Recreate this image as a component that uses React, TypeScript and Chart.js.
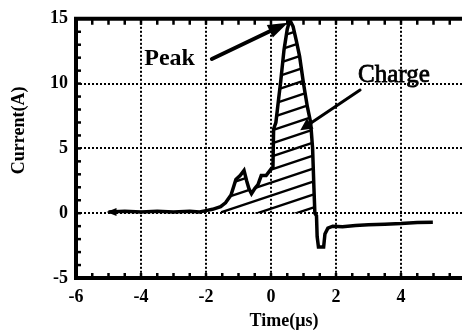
import React, { useEffect, useRef } from "react";
import { Chart, registerables } from "chart.js";

Chart.register(...registerables);

const timeUs = [
  -5.0, -4.5, -4.0, -3.5, -3.0, -2.5, -2.2, -2.0, -1.8, -1.55, -1.4, -1.23, -1.08, -0.95, -0.83,
  -0.75, -0.68, -0.6, -0.5, -0.4, -0.3, -0.15, 0.0, 0.06, 0.08, 0.15, 0.22, 0.3, 0.4, 0.5, 0.58,
  0.68, 0.78, 0.88, 1.0, 1.12, 1.22, 1.28, 1.32, 1.35, 1.4, 1.42, 1.46, 1.62, 1.66, 1.75, 1.9,
  2.2, 2.6, 3.0, 3.5, 4.0, 4.5, 4.98,
];
const currentA = [
  0.1, 0.15, 0.1, 0.15, 0.1, 0.15, 0.1, 0.2, 0.3, 0.5, 0.8, 1.4, 2.6, 2.9, 3.3,
  2.5, 1.9, 1.5, 1.9, 2.2, 2.9, 2.9, 3.4, 3.5, 6.5, 7.0, 8.5, 10.2, 12.6, 14.2, 14.9,
  14.4, 13.3, 12.1, 10.0, 8.2, 7.0, 5.0, 2.0, 0.0, -0.2, -1.8, -2.6, -2.6, -1.6, -1.15, -1.0,
  -1.05, -0.95, -0.9, -0.85, -0.8, -0.72, -0.7,
];
// Hatched "charge" region limits (µs)
const hatchStart = -1.55;
const hatchEnd = 1.35;

const xMin = -6;
const xMax = 6;
const xStep = 2;
const yMin = -5;
const yMax = 15;
const yStep = 5;

const xTitle = "Time(μs)";
const yTitle = "Current(A)";

// Annotations (data coordinates)
const peakLabel = { text: "Peak", x: -3.9, y: 11.4 };
const peakArrow = { from: [-1.82, 11.9], to: [0.52, 14.7] };
const chargeLabel = { text: "Charge", x: 2.68, y: 10.1 };
const chargeArrow = { from: [2.74, 9.5], to: [0.9, 6.4] };

const SERIF = "'Liberation Serif', 'DejaVu Serif', serif";

function makeHatch(ctx: CanvasRenderingContext2D) {
  const c = document.createElement("canvas");
  const w = 39;
  const h = 13;
  c.width = w;
  c.height = h;
  const g = c.getContext("2d")!;
  g.strokeStyle = "#000";
  g.lineWidth = 2.4;
  for (const dy of [-h, 0, h]) {
    g.beginPath();
    g.moveTo(-1, h + dy + h / w);
    g.lineTo(w + 1, dy - h / w);
    g.stroke();
  }
  return ctx.createPattern(c, "repeat");
}

function arrow(ctx: CanvasRenderingContext2D, x1: number, y1: number, x2: number, y2: number, len: number, half: number) {
  const ang = Math.atan2(y2 - y1, x2 - x1);
  const bx = x2 - len * Math.cos(ang);
  const by = y2 - len * Math.sin(ang);
  ctx.beginPath();
  ctx.moveTo(x1, y1);
  ctx.lineTo(bx, by);
  ctx.stroke();
  ctx.beginPath();
  ctx.moveTo(x2, y2);
  ctx.lineTo(bx + half * Math.sin(ang), by - half * Math.cos(ang));
  ctx.lineTo(bx - half * Math.sin(ang), by + half * Math.cos(ang));
  ctx.closePath();
  ctx.fill();
}

const decorPlugin = {
  id: "decor",
  afterDraw(chart: any) {
    const { ctx, chartArea: a, scales } = chart;
    const x = scales.x;
    const y = scales.y;
    ctx.save();
    ctx.fillStyle = "#000";
    ctx.strokeStyle = "#000";
    // frame lines: left, top, bottom
    ctx.lineWidth = 4;
    ctx.beginPath();
    ctx.moveTo(a.left, a.bottom + 2);
    ctx.lineTo(a.left, a.top - 2);
    ctx.moveTo(a.left - 2, a.top);
    ctx.lineTo(a.right + 4, a.top);
    ctx.moveTo(a.left - 2, a.bottom);
    ctx.lineTo(a.right + 4, a.bottom);
    ctx.stroke();
    // minor ticks on top & bottom
    ctx.lineWidth = 2.5;
    for (let v = xMin + 0.5; v < xMax; v += 0.5) {
      const px = x.getPixelForValue(v);
      ctx.beginPath();
      ctx.moveTo(px, a.top);
      ctx.lineTo(px, a.top + 6);
      ctx.moveTo(px, a.bottom);
      ctx.lineTo(px, a.bottom - 5);
      ctx.stroke();
    }
    // minor ticks on left
    for (let v = yMin + 1; v < yMax; v += 1) {
      const py = y.getPixelForValue(v);
      ctx.beginPath();
      ctx.moveTo(a.left, py);
      ctx.lineTo(a.left + 5, py);
      ctx.stroke();
    }
    // start arrowhead of trace
    {
      const px = x.getPixelForValue(timeUs[0]);
      const py = y.getPixelForValue(currentA[0]);
      ctx.beginPath();
      ctx.moveTo(px - 2, py);
      ctx.lineTo(px + 8, py - 4);
      ctx.lineTo(px + 8, py + 4);
      ctx.closePath();
      ctx.fill();
    }
    // annotation arrows
    ctx.lineWidth = 4;
    ctx.lineCap = "round";
    arrow(
      ctx,
      x.getPixelForValue(peakArrow.from[0]),
      y.getPixelForValue(peakArrow.from[1]),
      x.getPixelForValue(peakArrow.to[0]),
      y.getPixelForValue(peakArrow.to[1]),
      20,
      7
    );
    ctx.lineWidth = 3;
    arrow(
      ctx,
      x.getPixelForValue(chargeArrow.from[0]),
      y.getPixelForValue(chargeArrow.from[1]),
      x.getPixelForValue(chargeArrow.to[0]),
      y.getPixelForValue(chargeArrow.to[1]),
      12,
      6
    );
    // annotation labels
    ctx.textBaseline = "alphabetic";
    ctx.textAlign = "left";
    ctx.font = `bold 24px ${SERIF}`;
    ctx.fillText(peakLabel.text, x.getPixelForValue(peakLabel.x), y.getPixelForValue(peakLabel.y));
    ctx.font = `25px ${SERIF}`;
    ctx.lineWidth = 0.8;
    ctx.lineCap = "butt";
    const cx = x.getPixelForValue(chargeLabel.x);
    const cy = y.getPixelForValue(chargeLabel.y);
    ctx.fillText(chargeLabel.text, cx, cy);
    ctx.strokeText(chargeLabel.text, cx, cy);
    // axis titles
    ctx.font = `bold 18px ${SERIF}`;
    ctx.textAlign = "center";
    ctx.fillText(xTitle, (a.left + a.right) / 2 + 13, chart.height - 5);
    ctx.translate(24, (a.top + a.bottom) / 2 - 18);
    ctx.rotate(-Math.PI / 2);
    ctx.fillText(yTitle, 0, 0);
    ctx.restore();
  },
};

export default function App() {
  const ref = useRef<HTMLCanvasElement | null>(null);

  useEffect(() => {
    const canvas = ref.current!;
    const ctx = canvas.getContext("2d")!;
    const hatch = makeHatch(ctx);
    const mainData = timeUs.map((t, i) => ({ x: t, y: currentA[i] }));
    const hatchData = mainData.filter((p) => p.x >= hatchStart && p.x <= hatchEnd);

    const edgeX = (c: any) => (c.tick && (c.tick.value === xMin || c.tick.value === xMax) ? "rgba(0,0,0,0)" : "#000");
    const edgeY = (c: any) => (c.tick && (c.tick.value === yMin || c.tick.value === yMax) ? "rgba(0,0,0,0)" : "#000");

    const chart = new Chart(canvas, {
      type: "line",
      data: {
        datasets: [
          {
            label: "Current",
            data: mainData,
            borderColor: "#000",
            borderWidth: 3.5,
            pointRadius: 0,
            tension: 0,
            fill: false,
            order: 0,
          },
          {
            label: "Charge",
            data: hatchData,
            borderWidth: 0,
            borderColor: "rgba(0,0,0,0)",
            backgroundColor: hatch as any,
            pointRadius: 0,
            tension: 0,
            fill: "origin",
            order: 1,
          },
        ],
      },
      options: {
        animation: false,
        responsive: false,
        devicePixelRatio: 1,
        layout: { padding: { top: 18, right: 14, left: 0, bottom: 0 } },
        plugins: { legend: { display: false }, tooltip: { enabled: false } },
        scales: {
          x: {
            type: "linear",
            min: xMin,
            max: xMax,
            afterFit: (s: any) => {
              s.height = 53;
            },
            ticks: {
              stepSize: xStep,
              color: "#000",
              padding: 9,
              maxRotation: 0,
              font: { family: SERIF, size: 18, weight: "bold" },
            },
            grid: { color: edgeX, lineWidth: 2, drawTicks: false },
            border: { display: false, dash: [2, 2] },
          },
          y: {
            type: "linear",
            min: yMin,
            max: yMax,
            afterFit: (s: any) => {
              s.width = 76;
            },
            ticks: {
              stepSize: yStep,
              color: "#000",
              padding: 8,
              font: { family: SERIF, size: 18, weight: "bold" },
            },
            grid: { color: edgeY, lineWidth: 2, drawTicks: false },
            border: { display: false, dash: [2, 2] },
          },
        },
      },
      plugins: [decorPlugin],
    });
    return () => chart.destroy();
  }, []);

  return (
    <div
      style={{
        position: "fixed",
        left: 0,
        top: 0,
        width: 462,
        height: 331,
        overflow: "hidden",
        background: "#fff",
      }}
    >
      <canvas ref={ref} width={480} height={331} style={{ display: "block", width: 480, height: 331 }} />
    </div>
  );
}
